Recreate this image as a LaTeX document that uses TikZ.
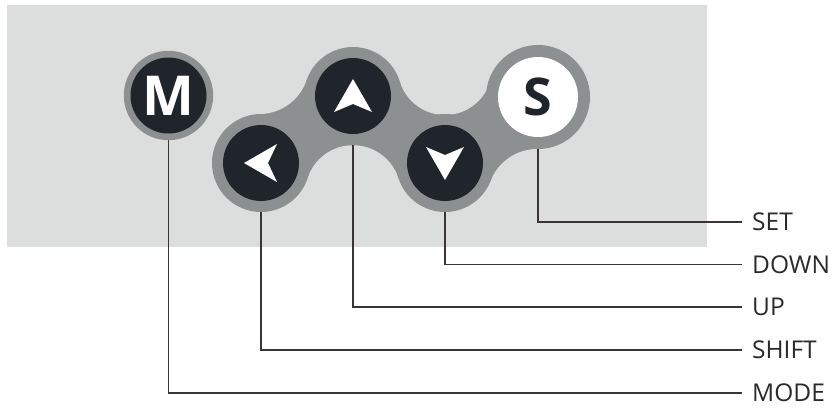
\documentclass[tikz,border=0pt]{standalone}
\usepackage{fontspec}
\setmainfont{Open Sans}
\definecolor{panel}{HTML}{DCDEDD}
\definecolor{ring}{HTML}{8C9091}
\definecolor{knob}{HTML}{1F252B}
\definecolor{leader}{HTML}{3A3434}
\definecolor{labtext}{HTML}{2A2A2A}
\tikzset{
  lead/.style={draw=leader, line width=1.8pt},
  lab/.style={anchor=west, inner xsep=10pt, inner ysep=0pt, text=labtext, font=\fontsize{24.5}{24.5}\selectfont},
  knobbtn/.style={circle, fill=knob, minimum size=76pt, inner sep=0pt},
  setbtn/.style={circle, fill=white, minimum size=80pt, inner sep=0pt},
  glyph/.style={fill=white},
}
\begin{document}
\begin{tikzpicture}[x=1pt, y=-1pt]
\useasboundingbox (0,0) rectangle (838,408);
\fill[white] (0,0) rectangle (838,408);
\fill[panel] (7,5) rectangle (707,247);

% centres
\coordinate (cM) at (168.5,95.5);
\coordinate (cL) at (261,163);
\coordinate (cU) at (353,96);
\coordinate (cD) at (445,163);
\coordinate (cS) at (538,97);
% fillet centres
\coordinate (fLU) at (259.3,64);
\coordinate (fB) at (353,193);
\coordinate (fT) at (445,67.8);
\coordinate (fDS) at (537.2,199);

% labels
\node[lab] (tSET)   at (742,222) {SET};
\node[lab] (tDOWN)  at (742,264.5) {DOWN};
\node[lab] (tUP)    at (742,307) {UP};
\node[lab] (tSHIFT) at (742,350) {SHIFT};
\node[lab] (tMODE)  at (742,393) {MODE};

% blob body
\fill[ring] (cL) -- (fLU) -- (cU) -- (fT) -- (cS) -- (fDS) -- (cD) -- (fB) -- cycle;
\fill[panel] (fLU) circle[radius=50];
\fill[panel] (fB) circle[radius=47.8];
\fill[panel] (fT) circle[radius=47.2];
\fill[panel] (fDS) circle[radius=50];
\fill[white] (480,247) rectangle (600,255);

% leaders
\draw[lead] (cS) |- (tSET.west);
\draw[lead] (cD) |- (tDOWN.west);
\draw[lead] (cU) |- (tUP.west);
\draw[lead] (cL) |- (tSHIFT.west);
\draw[lead] (cM) |- (tMODE.west);

\fill[ring] (cL) circle[radius=49];
\fill[ring] (cU) circle[radius=49];
\fill[ring] (cD) circle[radius=49];
\fill[ring] (cS) circle[radius=52];
\fill[ring] (cM) circle[radius=44.7];

% buttons
\node[knobbtn] (bM) at (cM) {};
\node[knobbtn] (bL) at (cL) {};
\node[knobbtn] (bU) at (cU) {};
\node[knobbtn] (bD) at (cD) {};
\node[setbtn]  (bS) at (cS) {};

\node[text=white, font=\fontsize{55}{55}\selectfont\bfseries, inner sep=0pt] (gM) at (cM) {M};
\node[text=knob, font=\fontsize{52}{52}\selectfont\bfseries, inner sep=0pt] (gS) at (cS) {S};

\fill[glyph] ([shift={(0,-17)}]bU.center) -- ++(19,33) -- ++(-19,-8) -- ++(-19,8) -- cycle;
\fill[glyph] ([shift={(0,17)}]bD.center) -- ++(19,-33) -- ++(-19,8) -- ++(-19,-8) -- cycle;
\fill[glyph] ([shift={(-17,0)}]bL.center) -- ++(33,-19) -- ++(-9,19) -- ++(9,19) -- cycle;
\end{tikzpicture}
\end{document}
